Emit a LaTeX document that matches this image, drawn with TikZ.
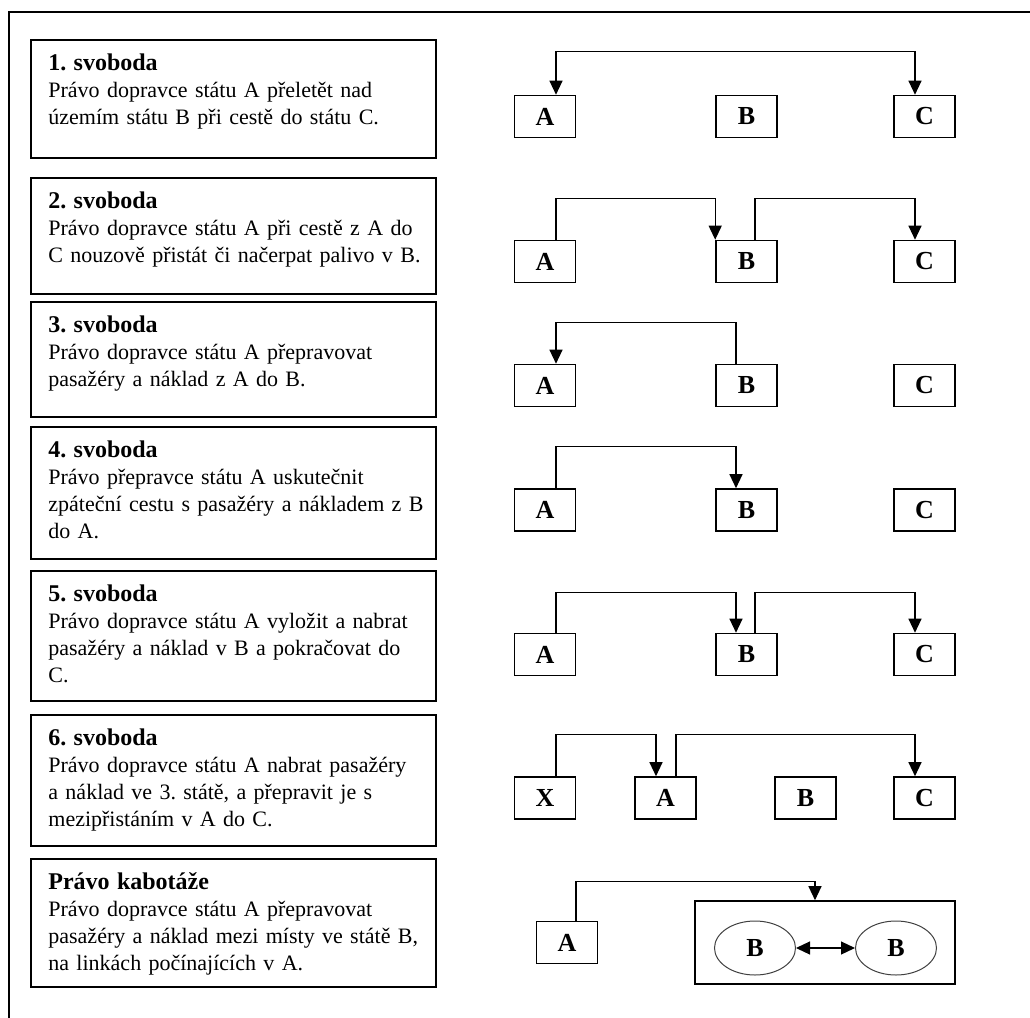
\documentclass[tikz,border=0pt]{standalone}
\usepackage{fontspec}
\setmainfont{Liberation Serif}
\usetikzlibrary{arrows.meta,shapes.geometric}
\frenchspacing

% one line stretched to the full text width
\newcommand{\jline}[1]{\makebox[185pt][s]{#1}}
% bold heading of a box
\newcommand{\boxhead}[1]{{\fontsize{12}{13.5}\selectfont\bfseries #1}\strut}

\tikzset{
  frame/.style={line width=0.6pt},
  infobox/.style={draw, line width=0.8pt, minimum width=202.5pt, inner sep=0pt},
  infotext/.style={anchor=north west, inner sep=0pt, text width=195pt, align=left,
    font=\fontsize{11}{13.5}\selectfont},
  statebox/.style={draw, line width=0.8pt, minimum width=30.5pt, minimum height=21pt,
    inner sep=0pt, font=\fontsize{13}{15}\selectfont\bfseries},
  region/.style={draw, line width=0.8pt, minimum width=130pt, minimum height=41.5pt,
    inner sep=0pt},
  placeell/.style={ellipse, draw=black!75, line width=0.5pt, minimum width=40.5pt,
    minimum height=27pt, inner sep=0pt, font=\fontsize{13}{15}\selectfont\bfseries},
  flow/.style={line width=0.6pt, -{Triangle[length=7pt,width=6.5pt]}},
  twoway/.style={line width=0.6pt,
    {Triangle[length=7pt,width=6.5pt]}-{Triangle[length=7pt,width=6.5pt]}}
}

\begin{document}
\begin{tikzpicture}[x=0.5pt,y=-0.5pt]
  \useasboundingbox (0,0) rectangle (1030,1018);

  % Drawing outer frame
  \draw[frame] (9,1018) -- (9,12) -- (1030,12);

  % Drawing freedom 1
  \node[infobox, minimum height=59pt] (box1) at (233.5,99) {};
  \node[infotext] (txt1) at (48,51.5) {\boxhead{1. svoboda}\\
    Právo dopravce státu A přeletět nad\\
    územím státu B při cestě do státu C.};
  \node[statebox] (a1) at (545,116.5) {A};
  \node[statebox] (b1) at (746.5,116.5) {B};
  \node[statebox] (c1) at (924.5,116.5) {C};
  \draw[twoway] ([xshift=5.5pt]a1.north) -- ++(0,-43) -| ([xshift=-4.75pt]c1.north);

  % Drawing freedom 2
  \node[infobox, minimum height=58pt] (box2) at (233.5,236) {};
  \node[infotext] (txt2) at (48,189.5) {\boxhead{2. svoboda}\\
    Právo dopravce státu A při cestě z A do\\
    C nouzově přistát či načerpat palivo v B.};
  \node[statebox] (a2) at (545,261.5) {A};
  \node[statebox] (b2) at (746.5,261.5) {B};
  \node[statebox] (c2) at (924.5,261.5) {C};
  \draw[flow] ([xshift=5.5pt]a2.north) -- ++(0,-41) -| (b2.north west);
  \draw[flow] ([xshift=4.25pt]b2.north) -- ++(0,-41) -| ([xshift=-4.75pt]c2.north);

  % Drawing freedom 3
  \node[infobox, minimum height=57.5pt] (box3) at (233.5,359.5) {};
  \node[infotext] (txt3) at (48,313.5) {\boxhead{3. svoboda}\\
    Právo dopravce státu A přepravovat\\
    pasažéry a náklad z A do B.};
  \node[statebox] (a3) at (545,385.5) {A};
  \node[statebox] (b3) at (746.5,385.5) {B};
  \node[statebox] (c3) at (924.5,385.5) {C};
  \draw[flow] ([xshift=-5.25pt]b3.north) -- ++(0,-41) -| ([xshift=5.5pt]a3.north);

  % Drawing freedom 4
  \node[infobox, minimum height=66pt] (box4) at (233.5,493) {};
  \node[infotext] (txt4) at (48,438.5) {\boxhead{4. svoboda}\\
    Právo přepravce státu A uskutečnit\\
    zpáteční cestu s pasažéry a nákladem z B\\
    do A.};
  \node[statebox] (a4) at (545,510) {A};
  \node[statebox] (b4) at (746.5,510) {B};
  \node[statebox] (c4) at (924.5,510) {C};
  \draw[flow] ([xshift=5.5pt]a4.north) -- ++(0,-42) -| ([xshift=-5.25pt]b4.north);

  % Drawing freedom 5
  \node[infobox, minimum height=65pt] (box5) at (233.5,636) {};
  \node[infotext] (txt5) at (48,582.5) {\boxhead{5. svoboda}\\
    Právo dopravce státu A vyložit a nabrat\\
    pasažéry a náklad v B a pokračovat do\\
    C.};
  \node[statebox] (a5) at (545,654.5) {A};
  \node[statebox] (b5) at (746.5,654.5) {B};
  \node[statebox] (c5) at (924.5,654.5) {C};
  \draw[flow] ([xshift=5.5pt]a5.north) -- ++(0,-40) -| ([xshift=-5.25pt]b5.north);
  \draw[flow] ([xshift=4.25pt]b5.north) -- ++(0,-40) -| ([xshift=-4.75pt]c5.north);

  % Drawing freedom 6
  \node[infobox, minimum height=65.5pt] (box6) at (233.5,780.5) {};
  \node[infotext] (txt6) at (48,726.5) {\boxhead{6. svoboda}\\
    \jline{Právo dopravce státu A nabrat pasažéry}\\
    \jline{a náklad ve 3. státě, a přepravit je s}\\
    mezipřistáním v A do C.};
  \node[statebox] (x6) at (545,798) {X};
  \node[statebox] (a6) at (665.5,798) {A};
  \node[statebox] (b6) at (805.5,798) {B};
  \node[statebox] (c6) at (924.5,798) {C};
  \draw[flow] ([xshift=5.5pt]x6.north) -- ++(0,-42) -| ([xshift=-4.75pt]a6.north);
  \draw[flow] ([xshift=5.25pt]a6.north) -- ++(0,-42) -| ([xshift=-4.75pt]c6.north);

  % Drawing cabotage
  \node[infobox, minimum height=64pt] (box7) at (233.5,923) {};
  \node[infotext] (txt7) at (48,870.5) {\boxhead{Právo kabotáže}\\
    \jline{Právo dopravce státu A přepravovat}\\
    \jline{pasažéry a náklad mezi místy ve státě B,}\\
    na linkách počínajících v A.};
  \node[statebox] (a7) at (567,942.5) {A};
  \node[region] (b7) at (825,942.5) {};
  \node[placeell] (b7l) at (755,948) {B};
  \node[placeell] (b7r) at (896,948) {B};
  \draw[flow] ([xshift=4.5pt]a7.north) -- ++(0,-39) -| ([xshift=-5pt]b7.north);
  \draw[twoway] (b7l) -- (b7r);
\end{tikzpicture}
\end{document}
